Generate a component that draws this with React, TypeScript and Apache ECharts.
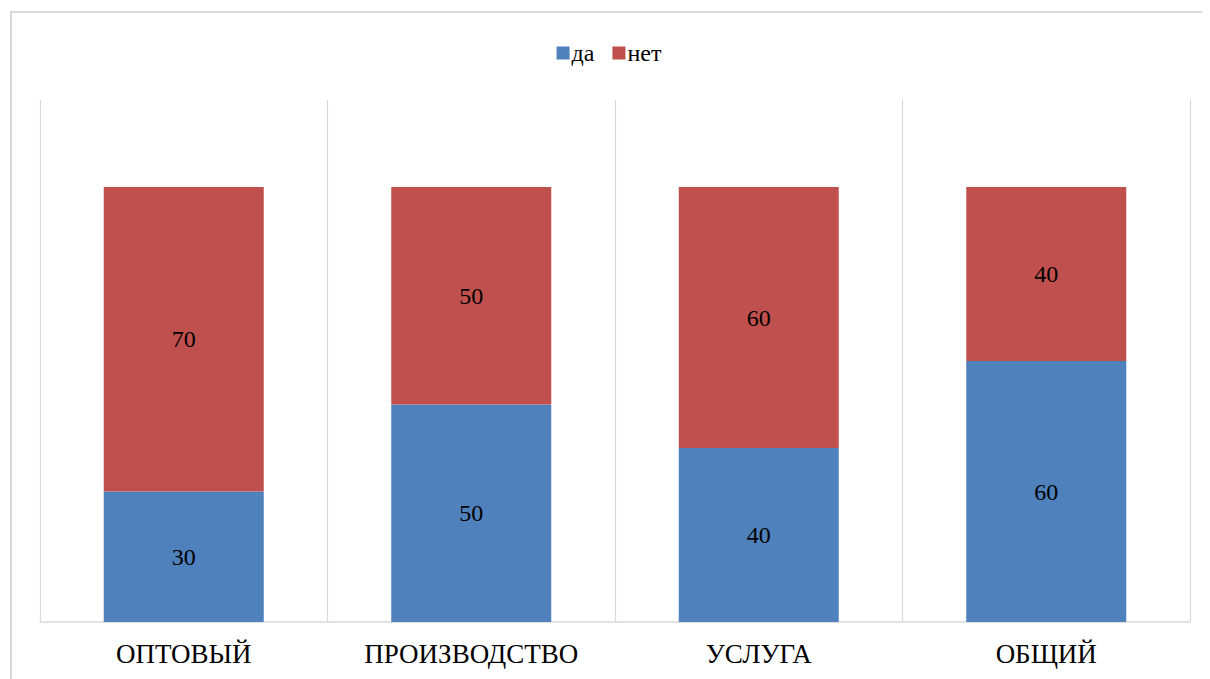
import React, { useEffect, useRef } from "react";
import * as echarts from "echarts";

const categories = ["ОПТОВЫЙ", "ПРОИЗВОДСТВО", "УСЛУГА", "ОБЩИЙ"];
const yesValues = [30, 50, 40, 60];
const noValues = [70, 50, 60, 40];
const seriesNames = ["да", "нет"];

const FONT = "Liberation Serif, Times New Roman, serif";

export default function App() {
  const ref = useRef<HTMLDivElement>(null);
  useEffect(() => {
    if (!ref.current) return;
    const chart = echarts.init(ref.current, undefined, { renderer: "svg" });
    const labelStyle = {
      show: true,
      position: "inside",
      color: "#000",
      fontFamily: FONT,
      fontSize: 24,
    };
    const borderStyle = { stroke: "#D9D9D9", lineWidth: 2 };
    chart.setOption({
      animation: false,
      backgroundColor: "#fff",
      textStyle: { fontFamily: FONT },
      graphic: [
        {
          type: "line",
          shape: { x1: 2, y1: 4, x2: 1202, y2: 4 },
          style: borderStyle,
          silent: true,
        },
        {
          type: "line",
          shape: { x1: 3, y1: 3, x2: 3, y2: 671 },
          style: borderStyle,
          silent: true,
        },
      ],
      legend: {
        data: seriesNames,
        left: "center",
        top: 28,
        itemWidth: 13,
        itemHeight: 13,
        itemGap: 18,
        icon: "rect",
        textStyle: { fontFamily: FONT, fontSize: 24, color: "#000", padding: [0, 0, 0, -3] },
      },
      grid: { left: 32, right: 20, top: 92, bottom: 57, containLabel: false },
      xAxis: {
        type: "category",
        data: categories,
        boundaryGap: true,
        axisLine: { show: true, lineStyle: { color: "#D9D9D9", width: 1.5 } },
        axisTick: { show: false },
        splitLine: { show: true, lineStyle: { color: "#D9D9D9", width: 1.2 } },
        axisLabel: {
          fontFamily: FONT,
          fontSize: 27,
          color: "#000",
          margin: 18,
        },
      },
      yAxis: {
        type: "value",
        min: 0,
        max: 120,
        interval: 20,
        show: false,
        splitLine: { show: false },
      },
      series: [
        {
          name: seriesNames[0],
          type: "bar",
          stack: "total",
          data: yesValues,
          barWidth: 160,
          itemStyle: { color: "#4F81BD" },
          label: labelStyle,
        },
        {
          name: seriesNames[1],
          type: "bar",
          stack: "total",
          data: noValues,
          barWidth: 160,
          itemStyle: { color: "#C0504D" },
          label: labelStyle,
        },
      ],
    });
    return () => chart.dispose();
  }, []);
  return <div ref={ref} style={{ width: 1202, height: 671 }} />;
}
